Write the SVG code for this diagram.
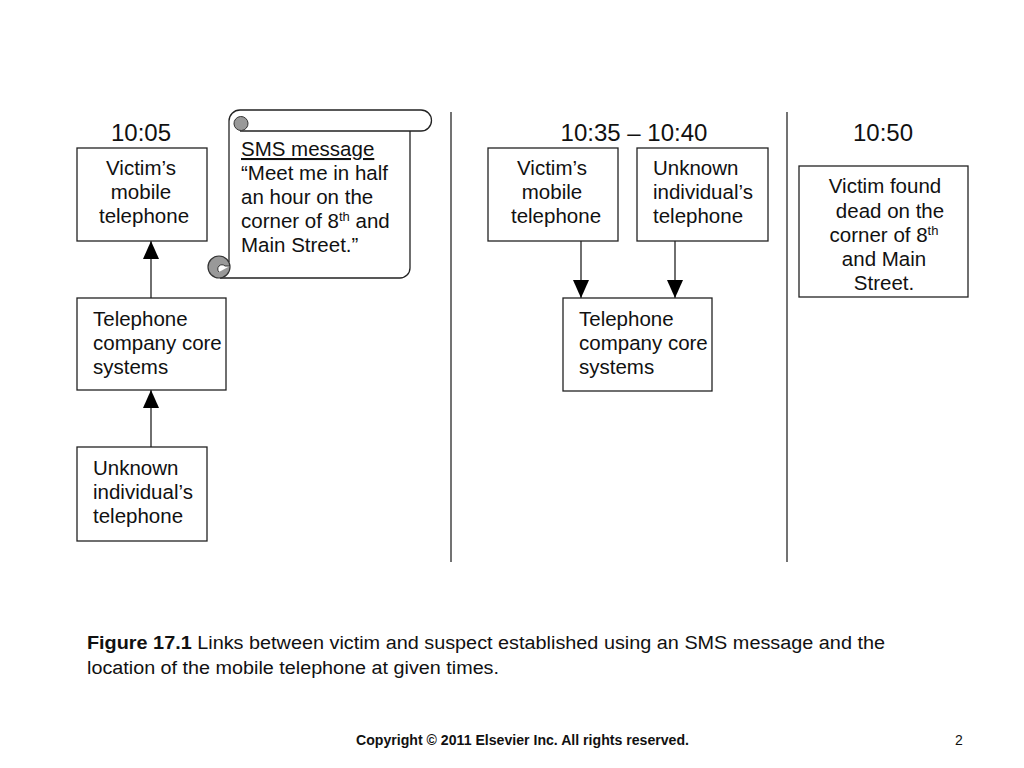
<svg xmlns="http://www.w3.org/2000/svg" width="1024" height="768" viewBox="0 0 1024 768">
<style>
.box{fill:#fff;stroke:#222;stroke-width:1.3}
.t{font-family:"Liberation Sans",Arial,sans-serif;font-size:20.5px;fill:#111}
.h{font-family:"Liberation Sans",Arial,sans-serif;font-size:24px;fill:#111}
.c{text-anchor:middle}
.sup{font-size:13px}
.ln{stroke:#222;stroke-width:1.3;fill:none}
.cap{font-family:"Liberation Sans",Arial,sans-serif;font-size:18px;fill:#111}
</style>
<defs>
<marker id="ah" markerUnits="userSpaceOnUse" markerWidth="18" markerHeight="20" refX="18" refY="8" orient="auto">
<path d="M0,0 L18,8 L0,16 Z" fill="#000"/>
</marker>
</defs>
<rect width="1024" height="768" fill="#fff"/>

<line x1="451" y1="112" x2="451" y2="562" stroke="#444" stroke-width="1.5"/>
<line x1="787" y1="112" x2="787" y2="562" stroke="#444" stroke-width="1.5"/>

<text class="h c" x="141" y="141">10:05</text>
<text class="h c" x="634" y="141">10:35 – 10:40</text>
<text class="h c" x="883" y="141">10:50</text>

<g id="connectors">
<line class="ln" x1="151" y1="298" x2="151" y2="241" marker-end="url(#ah)"/>
<line class="ln" x1="151" y1="447" x2="151" y2="390" marker-end="url(#ah)"/>
<line class="ln" x1="581" y1="241" x2="581" y2="298" marker-end="url(#ah)"/>
<line class="ln" x1="675" y1="241" x2="675" y2="298" marker-end="url(#ah)"/>
</g>

<g id="victim1">
<rect class="box" x="77" y="148" width="130" height="93"/>
<text class="t c" x="141" y="175">Victim’s</text>
<text class="t c" x="141" y="199">mobile</text>
<text class="t c" x="144" y="223">telephone</text>
</g>

<g id="core1">
<rect class="box" x="77" y="298" width="149" height="92"/>
<text class="t" x="93" y="326">Telephone</text>
<text class="t" x="93" y="350">company core</text>
<text class="t" x="93" y="374">systems</text>
</g>

<g id="unknown1">
<rect class="box" x="77" y="447" width="130" height="94"/>
<text class="t" x="93" y="475">Unknown</text>
<text class="t" x="93" y="499">individual’s</text>
<text class="t" x="93" y="523">telephone</text>
</g>

<g id="sms">
<path d="M240,110 H421 A10.5,10.5 0 0 1 421,131 H240" fill="#fff" stroke="#222" stroke-width="1.3"/>
<path d="M229,121 A11,11 0 0 1 240,110" fill="none" stroke="#222" stroke-width="1.3"/>
<path d="M229,121 V262" fill="none" stroke="#222" stroke-width="1.3"/>
<path d="M410,131 V268 A10,10 0 0 1 400,278 H220" fill="none" stroke="#222" stroke-width="1.3"/>
<path d="M234,124 A7,7 0 0 1 248,123 A7,7 0 0 1 234,124 Z" fill="#999" stroke="#333" stroke-width="1"/>
<circle cx="219" cy="267" r="11" fill="#999" stroke="#333" stroke-width="1.2"/>
<path d="M219,272 A4,4 0 1 1 225,266 L230,266" fill="#fff" stroke="#333" stroke-width="1"/>
<text class="t" x="241" y="156" text-decoration="underline">SMS message</text>
<text class="t" x="241" y="180">“Meet me in half</text>
<text class="t" x="241" y="204">an hour on the</text>
<text class="t" x="241" y="228">corner of 8<tspan class="sup" dy="-7">th</tspan><tspan dy="7"> and</tspan></text>
<text class="t" x="241" y="252">Main Street.”</text>
</g>

<g id="victim2">
<rect class="box" x="488" y="148" width="130" height="93"/>
<text class="t c" x="552" y="175">Victim’s</text>
<text class="t c" x="552" y="199">mobile</text>
<text class="t c" x="556" y="223">telephone</text>
</g>

<g id="unknown2">
<rect class="box" x="637" y="148" width="131" height="93"/>
<text class="t" x="653" y="175">Unknown</text>
<text class="t" x="653" y="199">individual’s</text>
<text class="t" x="653" y="223">telephone</text>
</g>

<g id="core2">
<rect class="box" x="563" y="298" width="149" height="93"/>
<text class="t" x="579" y="326">Telephone</text>
<text class="t" x="579" y="350">company core</text>
<text class="t" x="579" y="374">systems</text>
</g>

<g id="found">
<rect class="box" x="799" y="166" width="169" height="131"/>
<text class="t c" x="885" y="193">Victim found</text>
<text class="t c" x="890" y="218">dead on the</text>
<text class="t c" x="884" y="242">corner of 8<tspan class="sup" dy="-7">th</tspan></text>
<text class="t c" x="884" y="266">and Main</text>
<text class="t c" x="884" y="290">Street.</text>
</g>

<text class="cap" x="87" y="649" textLength="798" lengthAdjust="spacingAndGlyphs"><tspan font-weight="bold">Figure 17.1</tspan> Links between victim and suspect established using an SMS message and the</text>
<text class="cap" x="87" y="674" textLength="412" lengthAdjust="spacingAndGlyphs">location of the mobile telephone at given times.</text>

<text x="356" y="745" font-family="'Liberation Sans',Arial,sans-serif" font-size="14" font-weight="bold" fill="#111" textLength="333" lengthAdjust="spacingAndGlyphs">Copyright © 2011 Elsevier Inc. All rights reserved.</text>
<text x="955" y="745" font-family="'Liberation Sans',Arial,sans-serif" font-size="14" fill="#111">2</text>
</svg>
